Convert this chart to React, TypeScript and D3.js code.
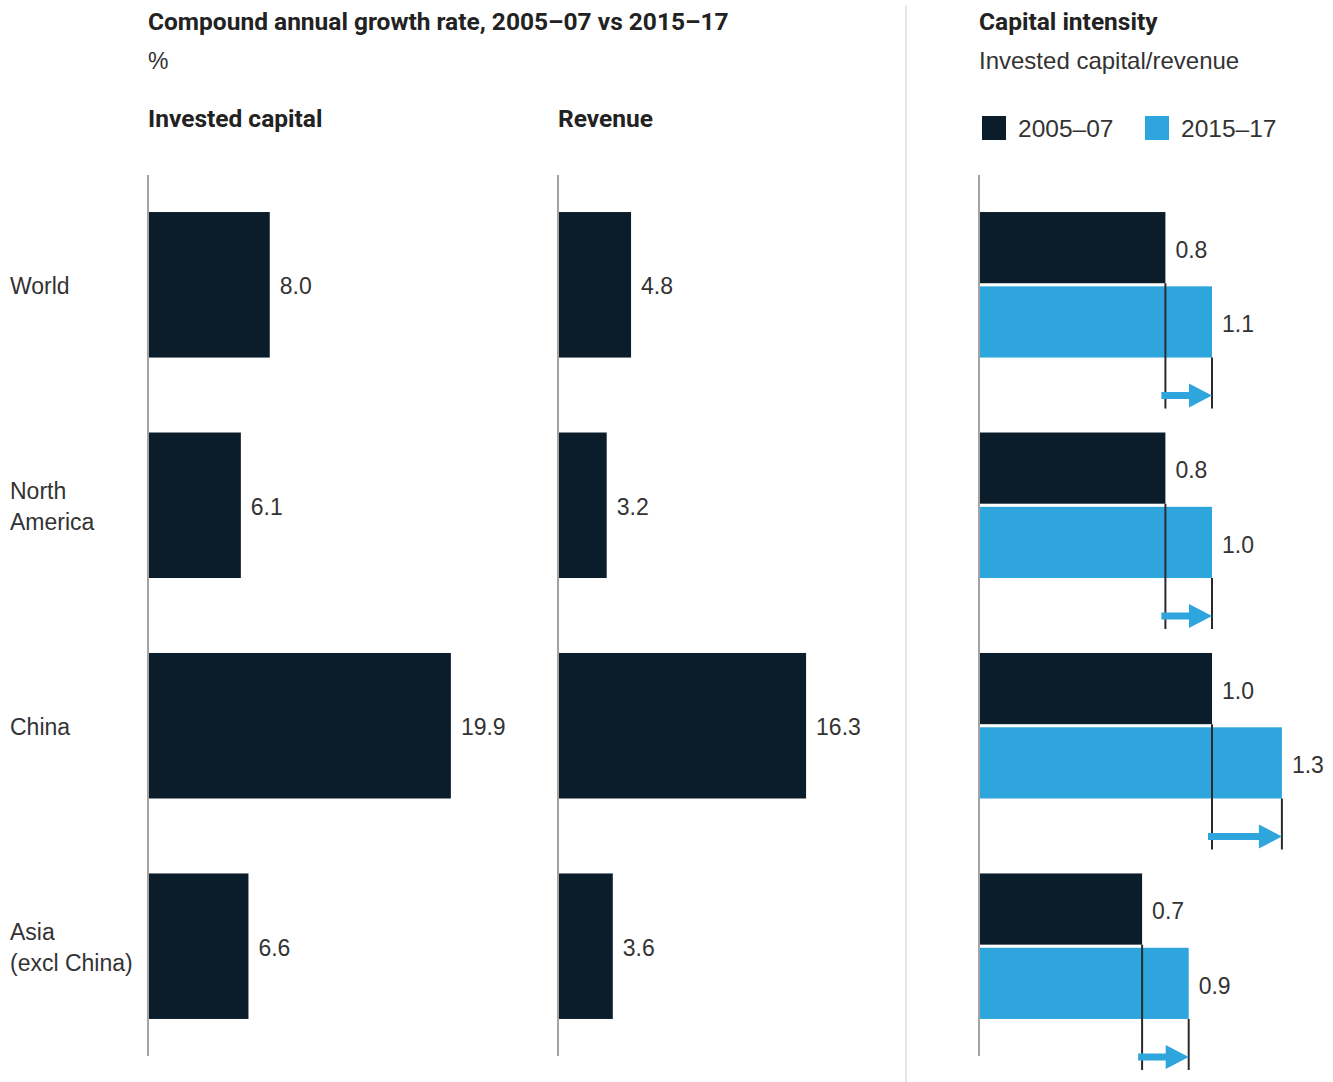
import React from "react";
import * as d3 from "d3";

const regions = ["World", "North America", "China", "Asia (excl China)"];
const regionLines = [["World"], ["North", "America"], ["China"], ["Asia", "(excl China)"]];
const investedCapital = [8.0, 6.1, 19.9, 6.6];
const revenue = [4.8, 3.2, 16.3, 3.6];
const series = ["2005–07", "2015–17"];
const intensity2005 = [0.8, 0.8, 1.0, 0.7];
const intensity2015 = [1.0, 1.0, 1.3, 0.9];
const intensityLabels2005 = ["0.8", "0.8", "1.0", "0.7"];
const intensityLabels2015 = ["1.1", "1.0", "1.3", "0.9"];

const W = 1333;
const H = 1082;
const DARK = "#0b1c2a";
const BLUE = "#2ea5dd";
const TEXT = "#333333";
const FONT_REG = "'Liberation Sans', Arial, sans-serif";
const FONT_BOLD = "Roboto, 'Liberation Sans', sans-serif";

export default function App() {
  const y = d3.scaleBand<string>().domain(regions).range([175, 1056]).paddingInner(0.34).paddingOuter(0.168);
  const xIC = d3.scaleLinear().domain([0, 20]).range([148, 148 + 20 * 15.22]);
  const xRev = d3.scaleLinear().domain([0, 20]).range([558, 558 + 20 * 15.22]);
  const xCI = d3.scaleLinear().domain([0, 1.4]).range([979, 979 + 1.4 * 233]);
  const sub = d3.scaleBand<string>().domain(series).range([0, y.bandwidth()]).paddingInner(0.042);
  const bw = y.bandwidth();

  const leftPanel = (vals: number[], x: d3.ScaleLinear<number, number>, key: string) => (
    <g key={key}>
      {regions.map((r, i) => (
        <g key={r}>
          <rect x={x(0)} y={y(r)!} width={x(vals[i]) - x(0)} height={bw} fill={DARK} />
          <text x={x(vals[i]) + 10} y={y(r)! + bw / 2} dy="0.42em" fontSize={23} fill={TEXT} fontFamily={FONT_REG}>
            {d3.format(".1f")(vals[i])}
          </text>
        </g>
      ))}
      <line x1={x(0)} x2={x(0)} y1={175} y2={1056} stroke="#a3a3a3" strokeWidth={2} />
    </g>
  );

  return (
    <svg width={W} height={H} style={{ position: "absolute", left: 0, top: 0, background: "#fff" }}>
      {/* headers */}
      <text x={148} y={30} fontSize={24.5} fontWeight={700} fill="#222" fontFamily={FONT_BOLD}>
        Compound annual growth rate, 2005–07 vs 2015–17
      </text>
      <text x={148} y={69} fontSize={23} fill={TEXT} fontFamily={FONT_REG}>%</text>
      <text x={148} y={127} fontSize={24.5} fontWeight={700} fill="#222" fontFamily={FONT_BOLD}>Invested capital</text>
      <text x={558} y={127} fontSize={24.5} fontWeight={700} fill="#222" fontFamily={FONT_BOLD}>Revenue</text>
      <text x={979} y={30} fontSize={24.5} fontWeight={700} fill="#222" fontFamily={FONT_BOLD}>Capital intensity</text>
      <text x={979} y={69} fontSize={24} fill={TEXT} fontFamily={FONT_REG}>Invested capital/revenue</text>

      {/* legend */}
      {series.map((s, i) => (
        <g key={s} transform={`translate(${982 + i * 163},116)`}>
          <rect width={24} height={24} fill={i === 0 ? DARK : BLUE} />
          <text x={36} y={21} fontSize={24.5} fill={TEXT} fontFamily={FONT_REG}>{s}</text>
        </g>
      ))}

      {/* separator */}
      <line x1={906} x2={906} y1={5} y2={H} stroke="#e6e6e6" strokeWidth={2} />

      {/* row labels */}
      {regions.map((r, i) => {
        const lines = regionLines[i];
        const cy = y(r)! + bw / 2;
        return (
          <text key={r} x={10} fontSize={23} fill={TEXT} fontFamily={FONT_REG}>
            {lines.map((l, j) => (
              <tspan key={j} x={10} y={cy + (j - (lines.length - 1) / 2) * 31} dy="0.4em">{l}</tspan>
            ))}
          </text>
        );
      })}

      {leftPanel(investedCapital, xIC, "ic")}
      {leftPanel(revenue, xRev, "rev")}

      {/* capital intensity */}
      {regions.map((r, i) => {
        const top = y(r)!;
        const a = xCI(intensity2005[i]);
        const b = xCI(intensity2015[i]);
        const yA = top + sub(series[0])!;
        const yB = top + sub(series[1])!;
        const sh = sub.bandwidth();
        const lineBottom = top + bw + 51;
        const arrowY = top + bw + 38;
        const headLen = 23;
        const headHalf = 12;
        const shaft = 3.5;
        return (
          <g key={r}>
            <rect x={xCI(0)} y={yA} width={a - xCI(0)} height={sh} fill={DARK} />
            <rect x={xCI(0)} y={yB} width={b - xCI(0)} height={sh} fill={BLUE} />
            <text x={a + 10} y={yA + sh / 2} dy="0.45em" fontSize={23} fill={TEXT} fontFamily={FONT_REG}>
              {intensityLabels2005[i]}
            </text>
            <text x={b + 10} y={yB + sh / 2} dy="0.45em" fontSize={23} fill={TEXT} fontFamily={FONT_REG}>
              {intensityLabels2015[i]}
            </text>
            <line x1={a} x2={a} y1={yA + sh} y2={lineBottom} stroke="#2a2a2a" strokeWidth={2} />
            <line x1={b} x2={b} y1={yB + sh} y2={lineBottom} stroke="#2a2a2a" strokeWidth={2} />
            <path
              d={`M${a - 4},${arrowY - shaft} L${b - headLen},${arrowY - shaft} L${b - headLen},${arrowY - headHalf} L${b},${arrowY} L${b - headLen},${arrowY + headHalf} L${b - headLen},${arrowY + shaft} L${a - 4},${arrowY + shaft} Z`}
              fill={BLUE}
            />
          </g>
        );
      })}
      <line x1={xCI(0)} x2={xCI(0)} y1={175} y2={1056} stroke="#a3a3a3" strokeWidth={2} />
    </svg>
  );
}
